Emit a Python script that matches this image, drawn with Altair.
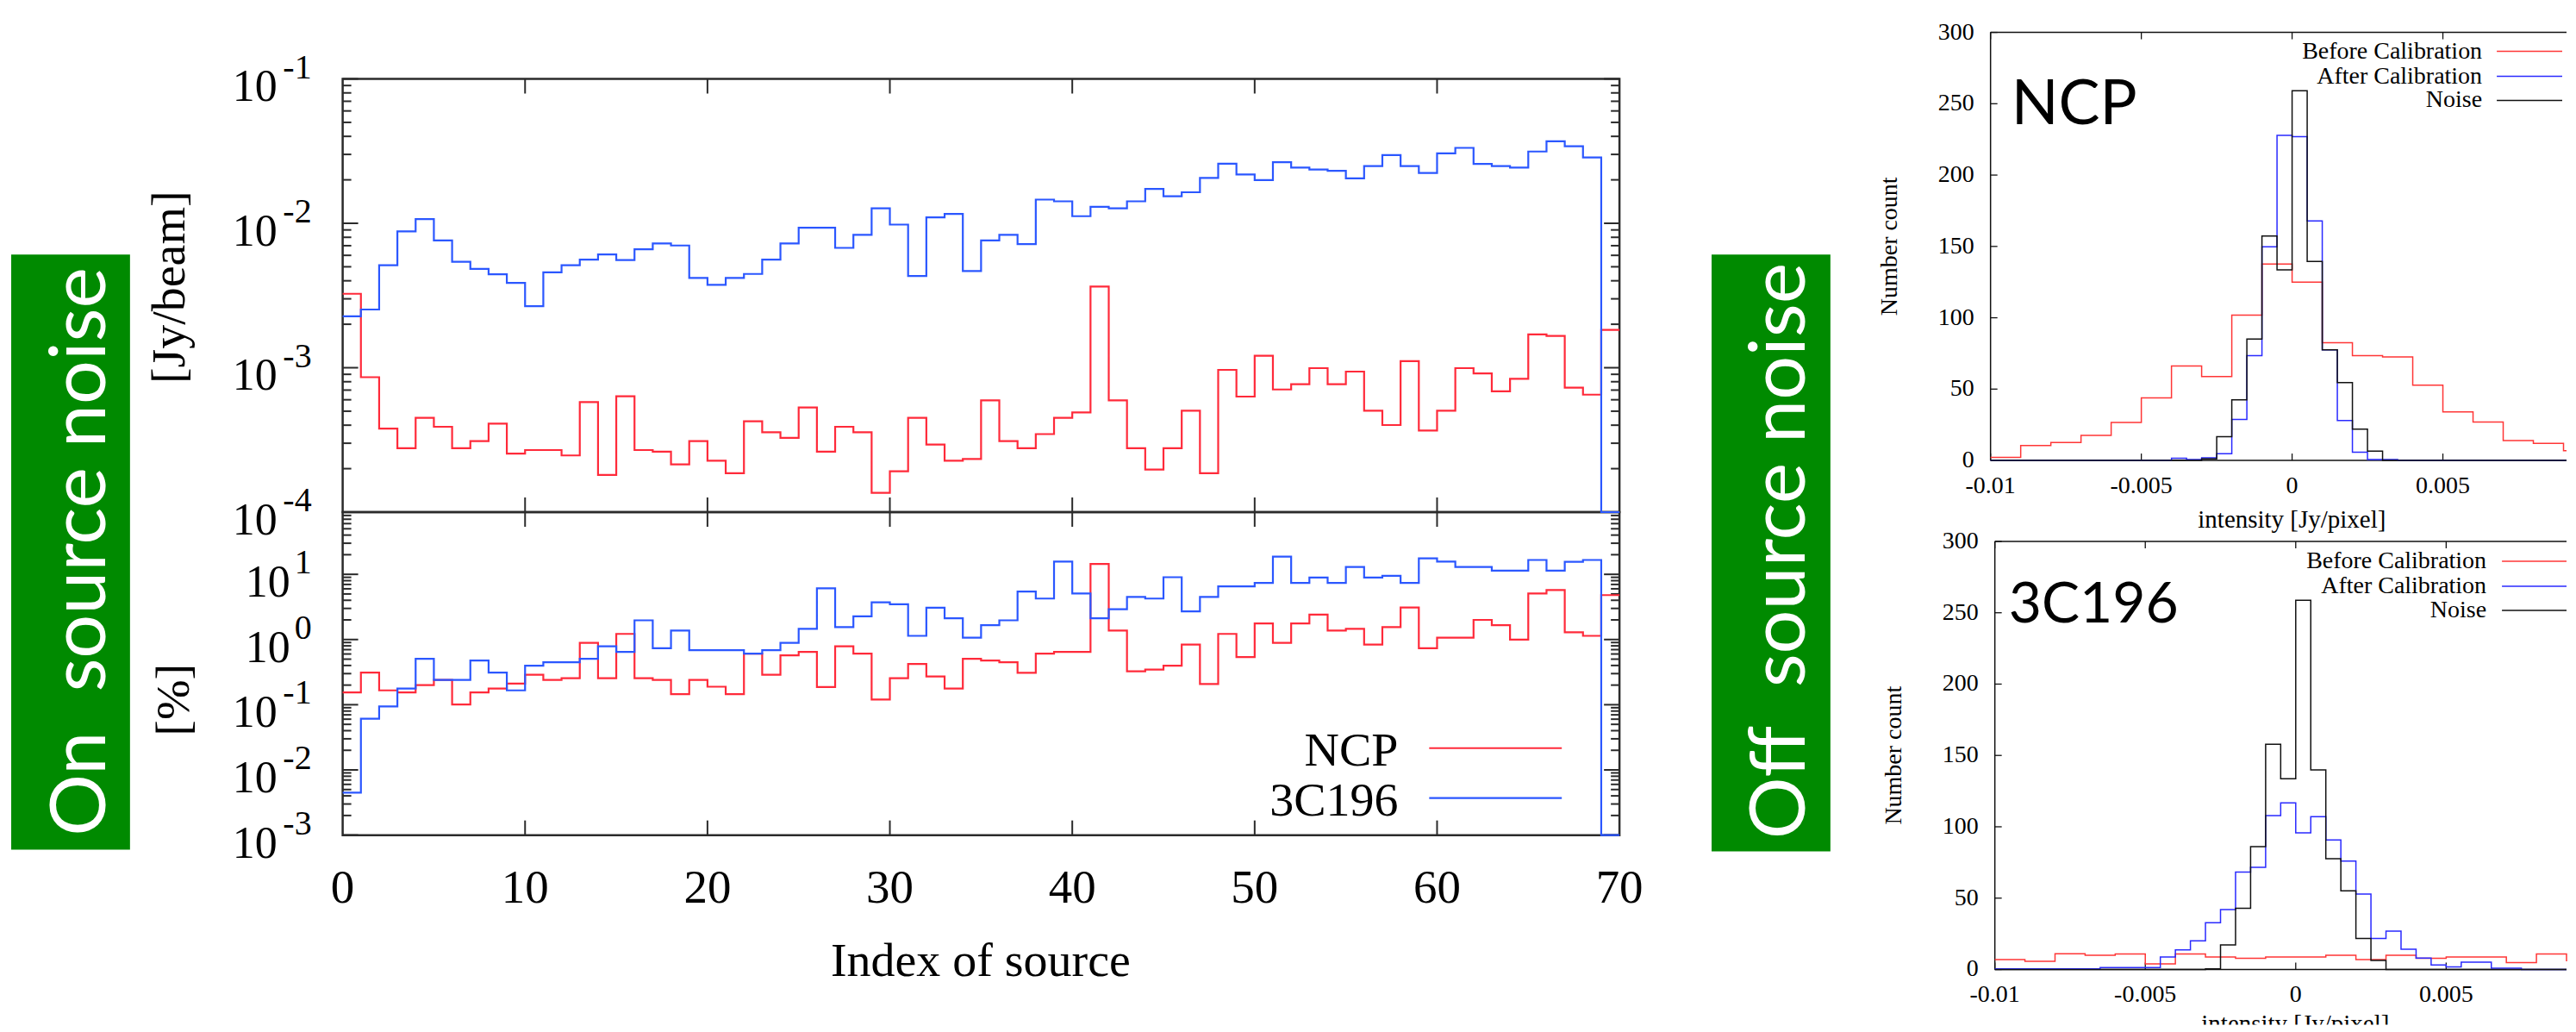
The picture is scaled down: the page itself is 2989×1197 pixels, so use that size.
import altair as alt
import pandas as pd

# ---------------- values ----------------
# Left: noise per source, bin i spans index i .. i+1
ncp_jy_beam = [
    3.25e-3, 8.6e-4, 3.79e-4, 2.77e-4, 4.50e-4, 3.90e-4, 2.77e-4, 3.10e-4, 4.10e-4, 2.54e-4,
    2.69e-4, 2.69e-4, 2.47e-4, 5.78e-4, 1.81e-4, 6.34e-4, 2.69e-4, 2.62e-4, 2.14e-4, 3.10e-4,
    2.27e-4, 1.86e-4, 4.26e-4, 3.57e-4, 3.27e-4, 5.30e-4, 2.62e-4, 3.90e-4, 3.57e-4, 1.36e-4,
    1.92e-4, 4.50e-4, 2.94e-4, 2.27e-4, 2.33e-4, 5.94e-4, 3.10e-4, 2.77e-4, 3.47e-4, 4.50e-4,
    4.90e-4, 3.65e-3, 5.94e-4, 2.77e-4, 1.97e-4, 2.77e-4, 5.04e-4, 1.86e-4, 9.66e-4, 6.31e-4,
    1.21e-3, 7.07e-4, 7.68e-4, 9.93e-4, 7.68e-4, 9.40e-4, 5.04e-4, 4.01e-4, 1.11e-3, 3.67e-4,
    5.04e-4, 9.93e-4, 9.14e-4, 6.86e-4, 8.37e-4, 1.70e-3, 1.66e-3, 7.28e-4, 6.51e-4, 1.83e-3,
]
c3c196_jy_beam = [
    2.27e-3, 2.53e-3, 5.12e-3, 8.79e-3, 1.07e-2, 7.62e-3, 5.41e-3, 4.84e-3, 4.44e-3, 3.87e-3,
    2.67e-3, 4.58e-3, 5.12e-3, 5.61e-3, 6.09e-3, 5.56e-3, 6.61e-3, 7.25e-3, 7.02e-3, 4.18e-3,
    3.75e-3, 4.18e-3, 4.46e-3, 5.61e-3, 7.25e-3, 9.33e-3, 9.33e-3, 6.76e-3, 8.32e-3, 1.27e-2,
    9.80e-3, 4.32e-3, 1.10e-2, 1.16e-2, 4.67e-3, 7.62e-3, 8.32e-3, 7.18e-3, 1.46e-2, 1.42e-2,
    1.12e-2, 1.30e-2, 1.27e-2, 1.42e-2, 1.73e-2, 1.54e-2, 1.64e-2, 2.06e-2, 2.59e-2, 2.18e-2,
    1.99e-2, 2.65e-2, 2.43e-2, 2.36e-2, 2.31e-2, 2.05e-2, 2.49e-2, 2.97e-2, 2.49e-2, 2.23e-2,
    3.05e-2, 3.33e-2, 2.58e-2, 2.49e-2, 2.43e-2, 3.14e-2, 3.70e-2, 3.42e-2, 2.86e-2, 1e-7,
]
ncp_percent = [
    0.154, 0.312, 0.166, 0.154, 0.200, 0.240, 0.101, 0.154, 0.177, 0.211,
    0.288, 0.240, 0.255, 0.891, 0.255, 1.22, 0.255, 0.240, 0.145, 0.240,
    0.189, 0.145, 0.607, 0.288, 0.571, 0.645, 0.187, 0.789, 0.607, 0.120,
    0.255, 0.423, 0.271, 0.177, 0.507, 0.476, 0.449, 0.309, 0.607, 0.645,
    0.645, 14.4, 1.37, 0.325, 0.346, 0.398, 0.838, 0.208, 1.22, 0.538,
    1.77, 0.891, 1.77, 2.41, 1.37, 1.46, 0.838, 1.55, 3.10, 0.736,
    1.07, 1.07, 2.00, 1.66, 1.00, 5.09, 5.74, 1.29, 1.14, 4.80,
]
c3c196_percent = [
    4.49e-3, 0.061, 0.094, 0.177, 0.507, 0.240, 0.240, 0.476, 0.312, 0.166,
    0.398, 0.449, 0.449, 0.507, 0.789, 0.645, 1.97, 0.736, 1.37, 0.686,
    0.686, 0.686, 0.607, 0.686, 0.891, 1.46, 6.11, 1.55, 2.27, 3.73,
    3.47, 1.14, 3.08, 2.12, 1.07, 1.66, 1.97, 5.46, 4.25, 15.7,
    5.09, 2.12, 2.92, 4.51, 4.25, 9.04, 2.70, 4.51, 6.54, 6.54,
    7.39, 18.7, 7.39, 8.95, 7.39, 13.0, 8.95, 9.51, 7.39, 17.6,
    15.7, 13.0, 13.0, 11.4, 11.4, 16.6, 11.4, 15.6, 16.6, 1e-7,
]
source_range = [0, 70]
jy_range = [1e-4, 1e-1]
pct_range = [1e-3, 90]
x_major = [10, 20, 30, 40, 50, 60]
x_label_vals = [0, 10, 20, 30, 40, 50, 60, 70]
jy_major = [1e-4, 1e-3, 1e-2, 1e-1]
pct_major = [1e-3, 1e-2, 1e-1, 1e0, 1e1]
jy_label_vals = [1e-1, 1e-2, 1e-3, 1e-4]
jy_label_exp = ["-1", "-2", "-3", "-4"]
pct_label_vals = [1e1, 1e0, 1e-1, 1e-2, 1e-3]
pct_label_exp = ["1", "0", "-1", "-2", "-3"]
left_legend = ["NCP", "3C196"]

# Right: histograms of off-source pixels
hist_start = -0.01
coarse_bin = 0.001
fine_bin = 0.0005
ncp_before = [2.2, 10.4, 12.6, 17.6, 26.7, 43.8, 66.2, 58.8, 101.9, 137.7,
              125.0, 82.5, 73.5, 72.6, 52.8, 34.1, 26.9, 14.0, 11.9, 6.9]
ncp_after = [0, 0, 0, 0, 0, 0, 0, 0, 0, 0,
             0, 0, 1.5, 0.6, 1.9, 4.7, 28.7, 73.5, 149.8, 227.8,
             226.9, 167.9, 77.6, 28.0, 5.8, 0.6, 0.6, 0, 0, 0,
             0, 0, 0, 0, 0, 0, 0, 0, 0, 0]
ncp_noise = [0, 0, 0, 0, 0, 0, 0, 0, 0, 0,
             0, 0, 0, 0, 1.1, 16.6, 42.5, 85.1, 157.3, 133.6,
             259.1, 139.4, 77.6, 54.5, 22.0, 6.5, 0, 0, 0, 0,
             0, 0, 0, 0, 0, 0, 0, 0, 0, 0]
c196_before = [6.9, 5.7, 11.0, 9.9, 10.8, 3.9, 10.8, 8.7, 7.8, 8.7,
               8.7, 9.9, 6.9, 9.9, 7.8, 8.7, 8.7, 4.8, 10.8, 5.7]
c196_after = [0.5, 0.5, 0.5, 0.5, 0.5, 0.5, 0.5, 1.4, 1.4, 1.4,
              1.4, 8.7, 13.8, 20.0, 32.8, 42.0, 68.2, 71.6, 107.9, 116.8,
              95.8, 107.1, 90.8, 75.9, 52.9, 21.8, 26.9, 14.2, 8.0, 3.2,
              1.8, 5.1, 5.1, 0.9, 0.9, 0, 0, 0, 0, 0]
c196_noise = [0, 0, 0, 0, 0, 0, 0, 0, 0, 0,
              0, 0, 0, 0, 0.5, 17.2, 42.9, 86.1, 157.9, 133.6,
              258.7, 139.8, 77.6, 55.1, 21.8, 6.4, 0, 0, 0, 0,
              0, 0, 0, 0, 0, 0, 0, 0, 0, 0]
count_range = [0, 300]
count_ticks = [0, 50, 100, 150, 200, 250, 300]
count_labels = ["0", "50", "100", "150", "200", "250", "300"]
int_ticks = [-0.01, -0.005, 0.0, 0.005]
int_labels = ["-0.01", "-0.005", "0", "0.005"]
visible_int_max_top = 0.0091
visible_int_max_bottom = 0.0090
right_legend = ["Before Calibration", "After Calibration", "Noise"]

# ---------------- style ----------------
SERIF = "Liberation Serif"
SANS = "Lato"
RED = "#ff2a3a"
BLUE = "#2b57ff"
RRED = "#ff3636"
RBLUE = "#2a2aff"
RBLACK = "#111111"
GREEN = "#008a00"
AX = "#2b2b2b"

blank = pd.DataFrame({"k": [0]})
L = []


def steps(start, width, values):
    n = len(values)
    return pd.DataFrame({"x": [start + width * i for i in range(n + 1)],
                         "v": list(values) + [values[-1]]})


def rect(x0, x1, y0, y1, **mk):
    return alt.Chart(blank).mark_rect(**mk).encode(
        x=alt.value(x0), x2=alt.value(x1), y=alt.value(y0), y2=alt.value(y1))


def hrule(x0, x1, y, color, w):
    return alt.Chart(blank).mark_rule(color=color, strokeWidth=w).encode(
        x=alt.value(x0), x2=alt.value(x1), y=alt.value(y))


def vrule(x, y0, y1, color, w):
    return alt.Chart(blank).mark_rule(color=color, strokeWidth=w).encode(
        x=alt.value(x), y=alt.value(y0), y2=alt.value(y1))


def text_at(txt, x, y, **mk):
    return alt.Chart(blank).mark_text(**mk).encode(
        x=alt.value(x), y=alt.value(y), text=alt.value(txt))


def yticks(vals, ys, x0, x1, color, w):
    return alt.Chart(pd.DataFrame({"t": vals})).mark_rule(color=color, strokeWidth=w).encode(
        y=alt.Y("t:Q", scale=ys, axis=None), x=alt.value(x0), x2=alt.value(x1))


def xticks(vals, xs, y0, y1, color, w):
    return alt.Chart(pd.DataFrame({"t": vals})).mark_rule(color=color, strokeWidth=w).encode(
        x=alt.X("t:Q", scale=xs, axis=None), y=alt.value(y0), y2=alt.value(y1))


def step_line(df, xs, ys, color, w):
    return alt.Chart(df).mark_line(interpolate="step-after", color=color, strokeWidth=w).encode(
        x=alt.X("x:Q", scale=xs, axis=None), y=alt.Y("v:Q", scale=ys, axis=None))


# ---------------- green boxes ----------------
L.append(rect(0, 138, 287, 978, color=GREEN))
L.append(text_at("On\u00a0 source noise", 109, 632, angle=270, font=SANS, fontSize=90,
                 color="white", align="center", baseline="alphabetic"))
L.append(rect(1975, 2113, 287, 980, color=GREEN))
L.append(text_at("Off\u00a0 source noise", 2083, 631, angle=270, font=SANS, fontSize=90,
                 color="white", align="center", baseline="alphabetic"))

# ---------------- left panels ----------------
XL0, XL1 = 385, 1868
YT0, YT1 = 83, 586
YB0, YB1 = 586, 961
xs_left = alt.Scale(domain=source_range, range=[XL0, XL1], nice=False, zero=False, clamp=True)
ys_top = alt.Scale(type="log", domain=jy_range, range=[YT1, YT0], nice=False, clamp=True)
ys_bot = alt.Scale(type="log", domain=pct_range, range=[YB1, YB0], nice=False, clamp=True)

jy_minor = [k * 10.0 ** e for e in range(-4, -1) for k in range(2, 10)]
pct_minor = [k * 10.0 ** e for e in range(-3, 2) for k in range(2, 10) if k * 10.0 ** e < 90]

for ys, y0, y1, majors, minors in [(ys_top, YT0, YT1, jy_major, jy_minor),
                                   (ys_bot, YB0, YB1, pct_major, pct_minor)]:
    L.append(rect(XL0, XL1, y0, y1, fillOpacity=0, stroke=AX, strokeWidth=2.5))
    L.append(yticks(majors, ys, XL0, XL0 + 18, AX, 2))
    L.append(yticks(minors, ys, XL0, XL0 + 10, AX, 2))
    L.append(yticks(majors, ys, XL1 - 18, XL1, AX, 2))
    L.append(yticks(minors, ys, XL1 - 10, XL1, AX, 2))
    L.append(xticks(x_major, xs_left, y0, y0 + 17, AX, 2))
    L.append(xticks(x_major, xs_left, y1 - 17, y1, AX, 2))

L.append(step_line(steps(0, 1, ncp_jy_beam), xs_left, ys_top, RED, 2.2))
L.append(step_line(steps(0, 1, c3c196_jy_beam), xs_left, ys_top, BLUE, 2.2))
L.append(step_line(steps(0, 1, ncp_percent), xs_left, ys_bot, RED, 2.2))
L.append(step_line(steps(0, 1, c3c196_percent), xs_left, ys_bot, BLUE, 2.2))


def exp_labels(vals, exps, ys):
    df = pd.DataFrame({"v": vals, "e": exps})
    out = [alt.Chart(df).mark_text(font=SERIF, fontSize=40, align="right", baseline="alphabetic",
                                   dy=-1, color="black").encode(
        y=alt.Y("v:Q", scale=ys, axis=None), x=alt.value(349), text="e:N")]
    for n, xr in [(2, 309), (1, 324)]:
        sub = df[df["e"].str.len() == n]
        if len(sub):
            out.append(alt.Chart(sub).mark_text(font=SERIF, fontSize=52, align="right",
                                                baseline="alphabetic", dy=26, color="black").encode(
                y=alt.Y("v:Q", scale=ys, axis=None), x=alt.value(xr), text=alt.value("10")))
    return out


L.extend(exp_labels(jy_label_vals, jy_label_exp, ys_top))
L.extend(exp_labels(pct_label_vals, pct_label_exp, ys_bot))

xl = pd.DataFrame({"t": x_label_vals, "s": [str(v) for v in x_label_vals]})
L.append(alt.Chart(xl).mark_text(font=SERIF, fontSize=55, align="center", baseline="alphabetic",
                                 color="black").encode(
    x=alt.X("t:Q", scale=xs_left, axis=None), y=alt.value(1039), text="s:N"))
L.append(text_at("Index of source", 1126, 1125, font=SERIF, fontSize=56, align="center",
                 baseline="alphabetic", color="black"))
L.append(text_at("[Jy/beam]", 184, 325, angle=270, font=SERIF, fontSize=56, align="center",
                 baseline="middle", color="black"))
L.append(text_at("[%]", 189, 804, angle=270, font=SERIF, fontSize=56, align="center",
                 baseline="middle", color="black"))

for lab, col, yb, yr in [(left_legend[0], RED, 880, 860), (left_legend[1], BLUE, 938, 918)]:
    L.append(text_at(lab, 1611, yb, font=SERIF, fontSize=56, align="right",
                     baseline="alphabetic", color="black"))
    L.append(hrule(1647, 1801, yr, col, 2.2))


# ---------------- right panels ----------------
def right_panel(x0, x1, y0, y1, xmax, before, after, noise, name, name_x, name_y, name_size,
                leg_tx, leg_x0, leg_x1, leg_ys, ylab_x, ytitle_x, xtitle_x, xtitle_y,
                xlab_y, clip_title):
    xs = alt.Scale(domain=[hist_start, xmax], range=[x0, x1], nice=False, zero=False, clamp=True)
    ys = alt.Scale(domain=count_range, range=[y1, y0], nice=False, zero=False, clamp=True)
    out = [hrule(x0, x1, y0, RBLACK, 1.5), vrule(x0, y0, y1, RBLACK, 1.5),
           hrule(x0, x1, y1, RBLACK, 1.5),
           yticks(count_ticks, ys, x0, x0 + 8, RBLACK, 1.3),
           xticks(int_ticks, xs, y1 - 8, y1, RBLACK, 1.3),
           xticks(int_ticks, xs, y0, y0 + 8, RBLACK, 1.3),
           step_line(steps(hist_start, coarse_bin, before), xs, ys, RRED, 1.5),
           step_line(steps(hist_start, fine_bin, after), xs, ys, RBLUE, 1.5),
           step_line(steps(hist_start, fine_bin, noise), xs, ys, RBLACK, 1.5)]
    yl = pd.DataFrame({"t": count_ticks, "s": count_labels})
    out.append(alt.Chart(yl).mark_text(font=SERIF, fontSize=28, align="right", baseline="middle",
                                       color="black").encode(
        y=alt.Y("t:Q", scale=ys, axis=None), x=alt.value(ylab_x), text="s:N"))
    xl2 = pd.DataFrame({"t": int_ticks, "s": int_labels})
    out.append(alt.Chart(xl2).mark_text(font=SERIF, fontSize=28, align="center",
                                        baseline="alphabetic", color="black").encode(
        x=alt.X("t:Q", scale=xs, axis=None), y=alt.value(xlab_y), text="s:N"))
    out.append(text_at("Number count", ytitle_x, (y0 + y1) / 2, angle=270, font=SERIF,
                       fontSize=28, align="center", baseline="middle", color="black"))
    out.append(text_at("intensity [Jy/pixel]", xtitle_x, xtitle_y, font=SERIF, fontSize=29,
                       align="center", baseline="alphabetic", color="black", clip=clip_title))
    out.append(text_at(name, name_x, name_y, font=SANS, fontSize=name_size, align="left",
                       baseline="alphabetic", color="black"))
    for lab, col, yy in zip(right_legend, [RRED, RBLUE, RBLACK], leg_ys):
        out.append(text_at(lab, leg_tx, yy, font=SERIF, fontSize=28, align="right",
                           baseline="middle", color="black"))
        out.append(hrule(leg_x0, leg_x1, yy, col, 1.5))
    return out


L.extend(right_panel(2299, 2968, 29, 526, visible_int_max_top, ncp_before, ncp_after, ncp_noise,
                     "NCP", 2323, 136, 72, 2870, 2887, 2963, [51, 80, 108],
                     2280, 2182, 2649, 604, 564, False))
L.extend(right_panel(2304, 2968, 620, 1117, visible_int_max_bottom, c196_before, c196_after,
                     c196_noise, "3C196", 2320, 714, 66, 2875, 2893, 2968, [643, 672, 700],
                     2285, 2187, 2653, 1190, 1155, True))

chart = alt.layer(*L).resolve_scale(x="independent", y="independent").properties(
    width=2968, height=1181, padding={"left": 5, "top": 0, "right": 0, "bottom": 0},
    view=alt.ViewBackground(stroke="transparent", strokeWidth=0, fill="white")
).configure_view(strokeWidth=0, stroke="transparent").configure(background="white")

chart.save("out.html", embed_options={"renderer": "svg", "actions": False})
